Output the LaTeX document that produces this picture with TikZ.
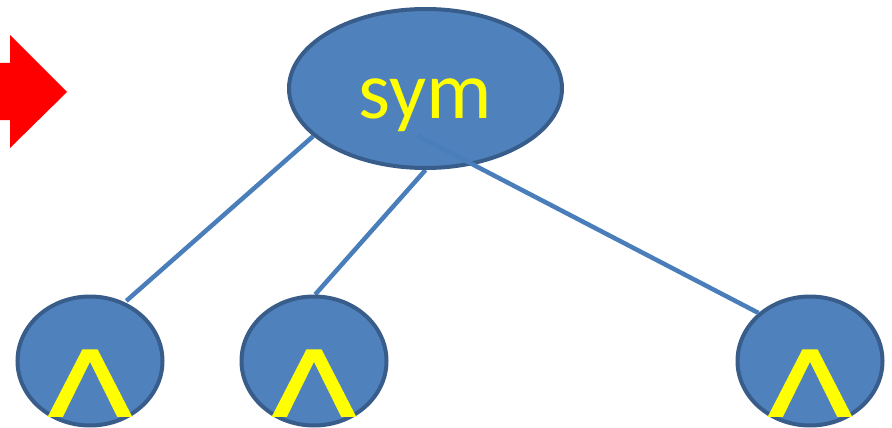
\documentclass[tikz,border=0pt]{standalone}
\usepackage{fontspec}
\setmainfont{Carlito}
\newfontfamily\lamfont[FakeBold=2]{DejaVu Sans}
\usetikzlibrary{shapes.geometric,backgrounds}
\definecolor{nodefill}{HTML}{4F81BD}
\definecolor{nodeline}{HTML}{385D8A}
\definecolor{edgecol}{HTML}{4A7EBB}
\definecolor{lamcol}{HTML}{FFFF00}
\definecolor{arrowred}{HTML}{FF0000}
\tikzset{
  x=1pt,y=1pt,
  bignode/.style={ellipse,draw=nodeline,fill=nodefill,line width=4pt,inner sep=0pt,minimum width=273pt,minimum height=159pt},
  leafnode/.style={ellipse,draw=nodeline,fill=nodefill,line width=4pt,inner sep=0pt,minimum width=145pt,minimum height=129pt},
  edge/.style={draw=edgecol,line width=4.5pt},
  symlabel/.style={text=lamcol,inner sep=0pt,font=\fontsize{82}{90}\selectfont},
  lamlabel/.style={text=lamcol,inner sep=0pt,font=\lamfont\fontsize{90}{100}\selectfont},
}
\newcommand{\lamglyph}{\scalebox{1.35}[1]{Λ}}
\begin{document}
\begin{tikzpicture}
\useasboundingbox (0,0) rectangle (892,-428);
% red arrow
\fill[arrowred] (0,-63) -- (10,-63) -- (10,-35) -- (67,-92) -- (10,-148) -- (10,-120) -- (0,-120) -- cycle;
% nodes
\node[bignode] (sym) at (425.5,-88.5) {};
\node[symlabel,anchor=base] (symtext) at (425.5,-118) {sym};
\node[leafnode] (l) at (90,-361) {};
\node[leafnode] (m) at (314,-361) {};
\node[leafnode] (r) at (810,-361) {};
\node[lamlabel,anchor=base] (ll) at (90,-416) {\lamglyph};
\node[lamlabel,anchor=base] (ml) at (314,-416) {\lamglyph};
\node[lamlabel,anchor=base] (rl) at (810,-416) {\lamglyph};
\coordinate (s3) at (418,-136);
\begin{pgfonlayer}{background}
\draw[edge] (sym.203) -- ([yshift=2pt]l.58);
\draw[edge] (sym.270) -- (m.89);
\end{pgfonlayer}
\draw[edge] (s3) -- (r.137);
\end{tikzpicture}
\end{document}
